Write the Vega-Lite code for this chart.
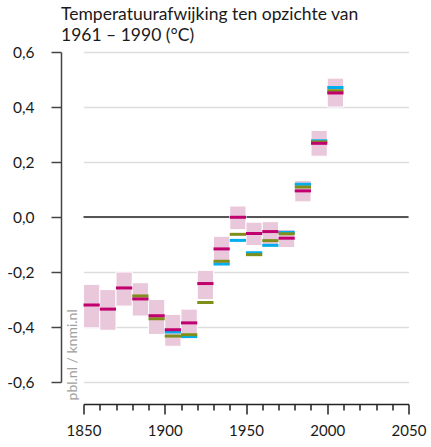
{
  "$schema": "https://vega.github.io/schema/vega-lite/v6.json",
  "width": 325,
  "height": 330,
  "autosize": {"type": "none"},
  "padding": {"left": 83.5, "top": 52, "right": 22.5, "bottom": 65},
  "background": "white",
  "config": {"view": {"stroke": null}, "font": "Lato", "axis": {"labelOverlap": false}},
  "title": {
    "text": ["Temperatuurafwijking ten opzichte van", "1961 – 1990 (°C)"],
    "anchor": "start",
    "frame": "group",
    "dx": -22.5,
    "offset": 1,
    "fontSize": 17.5,
    "fontWeight": "normal",
    "color": "#1a1a1a",
    "font": "Lato",
    "lineHeight": 21
  },
  "resolve": {"axis": {"x": "independent"}},
  "datasets": {
    "boxes": [
      {"from": 1850, "to": 1860, "lo": -0.403, "hi": -0.245},
      {"from": 1860, "to": 1870, "lo": -0.412, "hi": -0.264},
      {"from": 1870, "to": 1880, "lo": -0.324, "hi": -0.2},
      {"from": 1880, "to": 1890, "lo": -0.36, "hi": -0.239},
      {"from": 1890, "to": 1900, "lo": -0.427, "hi": -0.3},
      {"from": 1900, "to": 1910, "lo": -0.47, "hi": -0.354},
      {"from": 1910, "to": 1920, "lo": -0.432, "hi": -0.335},
      {"from": 1920, "to": 1930, "lo": -0.3, "hi": -0.194},
      {"from": 1930, "to": 1940, "lo": -0.167, "hi": -0.07},
      {"from": 1940, "to": 1950, "lo": -0.046, "hi": 0.04},
      {"from": 1950, "to": 1960, "lo": -0.104, "hi": -0.019},
      {"from": 1960, "to": 1970, "lo": -0.109, "hi": -0.017},
      {"from": 1970, "to": 1980, "lo": -0.111, "hi": -0.045},
      {"from": 1980, "to": 1990, "lo": 0.055, "hi": 0.133},
      {"from": 1990, "to": 2000, "lo": 0.221, "hi": 0.315},
      {"from": 2000, "to": 2010, "lo": 0.4, "hi": 0.505}
    ],
    "dashes": [
      {"from": 1900, "to": 1910, "series": "c", "value": -0.418},
      {"from": 1910, "to": 1920, "series": "c", "value": -0.435},
      {"from": 1930, "to": 1940, "series": "c", "value": -0.171},
      {"from": 1940, "to": 1950, "series": "c", "value": -0.085},
      {"from": 1950, "to": 1960, "series": "c", "value": -0.13},
      {"from": 1960, "to": 1970, "series": "c", "value": -0.103},
      {"from": 1970, "to": 1980, "series": "c", "value": -0.056},
      {"from": 1980, "to": 1990, "series": "c", "value": 0.119},
      {"from": 1990, "to": 2000, "series": "c", "value": 0.277},
      {"from": 2000, "to": 2010, "series": "c", "value": 0.471},
      {"from": 1880, "to": 1890, "series": "g", "value": -0.287},
      {"from": 1890, "to": 1900, "series": "g", "value": -0.37},
      {"from": 1900, "to": 1910, "series": "g", "value": -0.433},
      {"from": 1910, "to": 1920, "series": "g", "value": -0.428},
      {"from": 1920, "to": 1930, "series": "g", "value": -0.311},
      {"from": 1930, "to": 1940, "series": "g", "value": -0.161},
      {"from": 1940, "to": 1950, "series": "g", "value": -0.063},
      {"from": 1950, "to": 1960, "series": "g", "value": -0.137},
      {"from": 1960, "to": 1970, "series": "g", "value": -0.086},
      {"from": 1970, "to": 1980, "series": "g", "value": -0.061},
      {"from": 1980, "to": 1990, "series": "g", "value": 0.109},
      {"from": 1990, "to": 2000, "series": "g", "value": 0.273},
      {"from": 2000, "to": 2010, "series": "g", "value": 0.459},
      {"from": 1850, "to": 1860, "series": "m", "value": -0.32},
      {"from": 1860, "to": 1870, "series": "m", "value": -0.335},
      {"from": 1870, "to": 1880, "series": "m", "value": -0.258},
      {"from": 1880, "to": 1890, "series": "m", "value": -0.298},
      {"from": 1890, "to": 1900, "series": "m", "value": -0.359},
      {"from": 1900, "to": 1910, "series": "m", "value": -0.41},
      {"from": 1910, "to": 1920, "series": "m", "value": -0.385},
      {"from": 1920, "to": 1930, "series": "m", "value": -0.242},
      {"from": 1930, "to": 1940, "series": "m", "value": -0.116},
      {"from": 1940, "to": 1950, "series": "m", "value": -0.001},
      {"from": 1950, "to": 1960, "series": "m", "value": -0.06},
      {"from": 1960, "to": 1970, "series": "m", "value": -0.053},
      {"from": 1970, "to": 1980, "series": "m", "value": -0.077},
      {"from": 1980, "to": 1990, "series": "m", "value": 0.095},
      {"from": 1990, "to": 2000, "series": "m", "value": 0.268},
      {"from": 2000, "to": 2010, "series": "m", "value": 0.451}
    ]
  },
  "layer": [
    {
      "data": {"name": "boxes"},
      "mark": {"type": "rect", "fill": "#eac8db", "stroke": "#ffffff", "strokeWidth": 1, "opacity": 0},
      "encoding": {
        "x": {
          "field": "from",
          "type": "quantitative",
          "scale": {"domain": [1850, 2050], "nice": false, "zero": false},
          "axis": {
            "orient": "bottom",
            "values": [1850, 1900, 1950, 2000, 2050],
            "format": "d",
            "offset": 22,
            "tickSize": 10,
            "domainColor": "#222222",
            "tickColor": "#222222",
            "domainWidth": 1.5,
            "tickWidth": 1.5,
            "labelFont": "Lato",
            "labelFontSize": 15,
            "labelColor": "#1a1a1a",
            "labelPadding": 9,
            "labelFlush": false,
            "labelOverlap": false,
            "grid": false,
            "title": null
          }
        },
        "x2": {"field": "to"},
        "y": {
          "field": "lo",
          "type": "quantitative",
          "scale": {"domain": [-0.6, 0.6], "nice": false, "zero": false},
          "axis": {
            "values": [-0.6, -0.5, -0.4, -0.3, -0.2, -0.1, 0, 0.1, 0.2, 0.3, 0.4, 0.5, 0.6],
            "labelExpr": "round(datum.value*10) % 2 === 0 ? replace(replace(format(datum.value, '.1f'), '.', ','), '−', '-') : ''",
            "offset": 22.5,
            "tickSize": {"condition": {"test": "round(datum.value*10) % 2 === 0", "value": 10}, "value": 6},
            "gridOpacity": {"condition": {"test": "round(datum.value*10) % 2 === 0", "value": 1}, "value": 0},
            "grid": true,
            "gridColor": "#dddddd",
            "gridWidth": 1.5,
            "domainColor": "#444444",
            "tickColor": "#444444",
            "domainWidth": 1.5,
            "tickWidth": 1.5,
            "labelFont": "Lato",
            "labelFontSize": 15.5,
            "labelColor": "#1a1a1a",
            "labelPadding": 17,
            "labelOverlap": false,
            "labelFlush": false,
            "title": null
          }
        },
        "y2": {"field": "hi"}
      }
    },
    {
      "data": {"values": [{"v": 0}]},
      "mark": {"type": "rule", "color": "#555555", "strokeWidth": 2},
      "encoding": {"y": {"field": "v", "type": "quantitative"}}
    },
    {
      "data": {"name": "boxes"},
      "mark": {"type": "rect", "fill": "#eac8db", "stroke": "#ffffff", "strokeWidth": 1},
      "encoding": {
        "x": {"field": "from", "type": "quantitative", "axis": null},
        "x2": {"field": "to"},
        "y": {"field": "lo", "type": "quantitative"},
        "y2": {"field": "hi"}
      }
    },
    {
      "data": {"name": "dashes"},
      "mark": {"type": "rule", "strokeWidth": 3, "strokeCap": "butt"},
      "encoding": {
        "x": {
          "field": "from",
          "type": "quantitative",
          "axis": {
            "orient": "bottom",
            "values": [1860, 1870, 1880, 1890, 1910, 1920, 1930, 1940, 1960, 1970, 1980, 1990, 2010, 2020, 2030, 2040],
            "offset": 22,
            "tickSize": 6,
            "tickColor": "#222222",
            "tickWidth": 1.5,
            "domain": false,
            "labels": false,
            "grid": false,
            "title": null
          }
        },
        "x2": {"field": "to"},
        "y": {"field": "value", "type": "quantitative"},
        "color": {
          "field": "series",
          "type": "nominal",
          "scale": {"domain": ["c", "g", "m"], "range": ["#00aeef", "#7f8f1c", "#c0006e"]},
          "legend": null
        }
      }
    },
    {
      "data": {"values": [{"label": "pbl.nl / knmi.nl"}]},
      "mark": {"type": "text", "angle": 270, "align": "left", "baseline": "middle", "fontSize": 14, "color": "#a0a0a0", "font": "Lato"},
      "encoding": {
        "x": {"datum": 1843.5, "type": "quantitative", "axis": null},
        "y": {"datum": -0.667, "type": "quantitative"},
        "text": {"field": "label"}
      }
    }
  ]
}
